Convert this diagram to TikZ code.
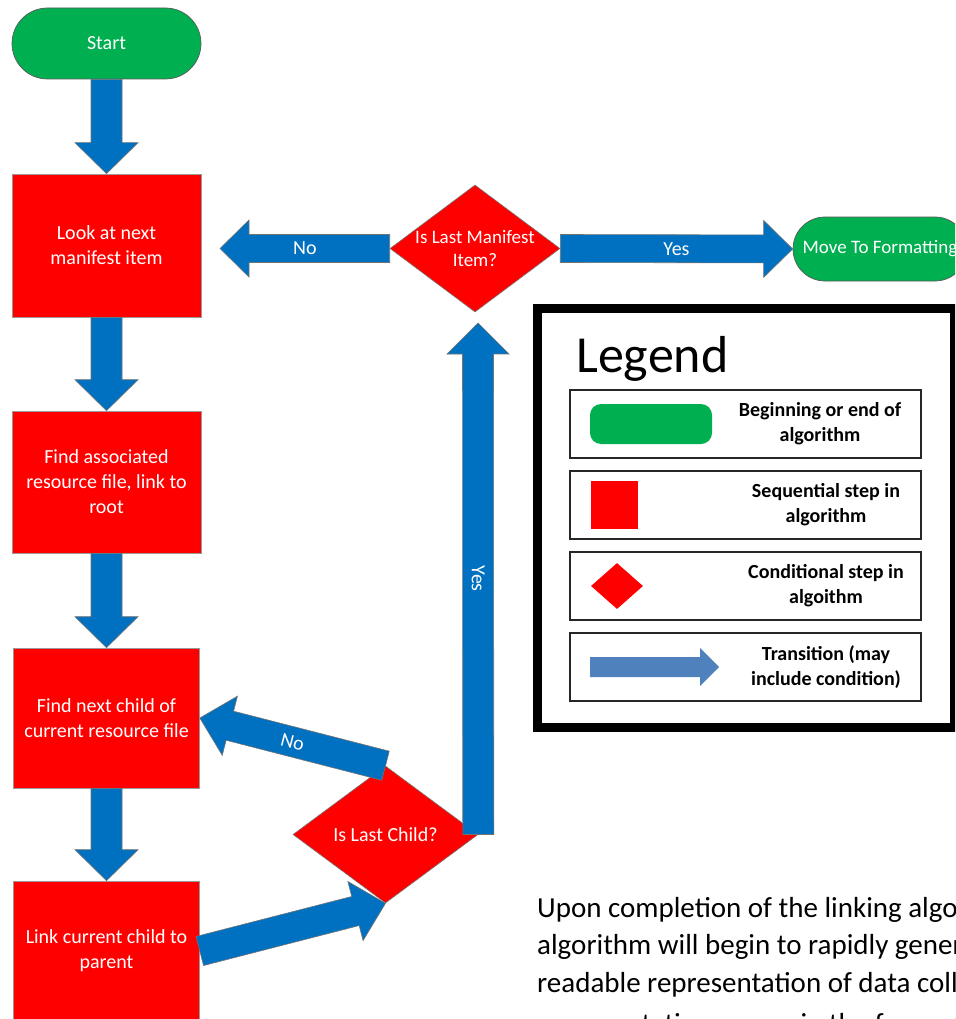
\documentclass[tikz,border=0pt]{standalone}
\usepackage{fontspec}
\setmainfont{Carlito}
\usetikzlibrary{calc,shapes.geometric}
\definecolor{fred}{HTML}{FF0000}
\definecolor{fgreen}{HTML}{00B050}
\definecolor{fblue}{HTML}{0070C0}
\definecolor{lblue}{HTML}{4F81BD}

% block arrow: [style]{tail}{tip}{shaft half width}{head half width}{head length}
\newcommand\blockarrow[6][barrow]{%
  \path[#1] let \p1=(#2), \p2=(#3),
    \n1={atan2(\y2-\y1,\x2-\x1)}, \n2={veclen(\x2-\x1,\y2-\y1)} in
    [shift={(\p1)}, rotate=\n1]
    (0pt,-#4pt) -- (\n2-#6pt,-#4pt) -- (\n2-#6pt,-#5pt) -- (\n2,0pt)
    -- (\n2-#6pt,#5pt) -- (\n2-#6pt,#4pt) -- (0pt,#4pt) -- cycle;}

\tikzset{
  stepbox/.style={rectangle, fill=fred, draw=black!40, line width=0.6pt, text=white,
    align=center, font=\fontsize{20}{25}\selectfont, inner sep=0pt},
  term/.style={rectangle, fill=fgreen, draw=black!65, line width=0.7pt, text=white,
    align=center, font=\fontsize{20}{25}\selectfont, inner sep=0pt},
  cond/.style={diamond, fill=fred, draw=black!55, line width=0.6pt, inner sep=0pt},
  wlbl/.style={text=white, align=center, font=\fontsize{20}{25}\selectfont, inner sep=0pt},
  barrow/.style={fill=fblue, draw=black!55, line width=0.6pt},
  legarrow/.style={fill=lblue},
  legrow/.style={rectangle, draw=black!85, line width=1.5pt, minimum width=351pt, minimum height=68pt, inner sep=0pt},
  legtxt/.style={align=center, font=\bfseries\fontsize{20}{25}\selectfont, inner sep=0pt},
  paratxt/.style={anchor=base west, font=\fontsize{29}{35}\selectfont, inner sep=0pt},
}

\begin{document}
\begin{tikzpicture}[x=1pt,y=-1pt]
\useasboundingbox (0,0) rectangle (955,1019);
\fill[white] (0,0) rectangle (955,1019);
\clip (0,0) rectangle (955,1019);

% main flow nodes
\node[term, rounded corners=35.5pt, minimum width=189pt, minimum height=71pt] (start) at (106.5,43.5) {Start};
\node[stepbox, minimum width=189pt, minimum height=143pt] (b1) at (106.5,245.5) {Look at next\\manifest item};
\node[stepbox, minimum width=189pt, minimum height=142pt] (b2) at (106.5,482) {Find associated\\resource file, link to\\root};
\node[stepbox, minimum width=186pt, minimum height=140pt] (b3) at (106.5,718) {Find next child of\\current resource file};
\node[stepbox, minimum width=186pt, minimum height=140pt] (b4) at (106.5,951) {Link current child to\\parent};

\node[cond, minimum width=170pt, minimum height=127pt] (lm) at (475,248.5) {};
\node[wlbl, font=\fontsize{19}{23}\selectfont] (lmt) at (475,249) {Is Last Manifest\\Item?};
\node[term, rounded corners=32pt, minimum width=174pt, minimum height=64pt, font=\fontsize{19}{23}\selectfont] (mf) at (880,249) {Move To Formatting};

\node[cond, minimum width=185pt, minimum height=137pt] (lc) at (385.5,834.5) {};
\node[wlbl] (lct) at (385.5,834.5) {Is Last Child?};

\coordinate (nt) at (220,248.5);
\coordinate (yt) at (478,323);

% transitions
\blockarrow{start.south}{b1.north}{15.5}{31.5}{31}
\blockarrow{b1.south}{b2.north}{15.5}{31.5}{31}
\blockarrow{b2.south}{b3.north}{15.5}{31.5}{31}
\blockarrow{b3.south}{b4.north}{15.5}{31.5}{31}
\blockarrow{lm.west}{nt}{14}{28.5}{29}
\blockarrow{lm.east}{mf.west}{14}{28.5}{29}
\blockarrow{lc.east}{yt}{15.5}{31}{31}
\blockarrow{lc.north}{b3.east}{15}{30.5}{31}
\blockarrow{b4.east}{lc.south}{15}{30.5}{31}

\path (lm.west) -- node[wlbl] (lno) {No} (nt);
\path (lm.east) -- node[wlbl] (lyes) {Yes} (mf.west);
\path (lc.east) -- node[wlbl, sloped] (lyes2) {Yes} (yt);
\path (lc.north) -- node[wlbl, sloped] (lno2) {No} (b3.east);

% legend
\node[draw=black, line width=9pt, minimum width=417pt, minimum height=419pt, inner sep=0pt] (legend) at (745.5,518) {};
\node[anchor=base west, font=\fontsize{52}{60}\selectfont, inner sep=0pt] (legtitle) at (576,372) {Legend};

\node[legrow] (r1) at (745.5,424) {};
\node[legrow] (r2) at (745.5,505) {};
\node[legrow] (r3) at (745.5,586) {};
\node[legrow] (r4) at (745.5,667) {};

\node[rectangle, fill=fgreen, rounded corners=11pt, minimum width=122pt, minimum height=40pt, inner sep=0pt] (lg1) at (651,424) {};
\node[rectangle, fill=fred, minimum width=47pt, minimum height=48pt, inner sep=0pt] (lg2) at (614.5,505) {};
\node[diamond, fill=fred, minimum width=52pt, minimum height=46pt, inner sep=0pt] (lg3) at (617,586) {};
\coordinate (la1) at (590,667);
\coordinate (la2) at (719,667);
\blockarrow[legarrow]{la1}{la2}{10}{19}{19}

\node[legtxt] (t1) at (820,424) {Beginning or end of\\algorithm};
\node[legtxt] (t2) at (826,505) {Sequential step in\\algorithm};
\node[legtxt] (t3) at (826,586) {Conditional step in\\algoithm};
\node[legtxt] (t4) at (826,667) {Transition (may\\include condition)};

% paragraph
\node[paratxt] (p1) at (537,917) {Upon completion of the linking algorithm};
\node[paratxt] (p2) at (537,954.5) {algorithm will begin to rapidly generate};
\node[paratxt] (p3) at (537,992) {readable representation of data collected};
\node[paratxt] (p4) at (537,1033) {representation comes in the form of};
\end{tikzpicture}
\end{document}
